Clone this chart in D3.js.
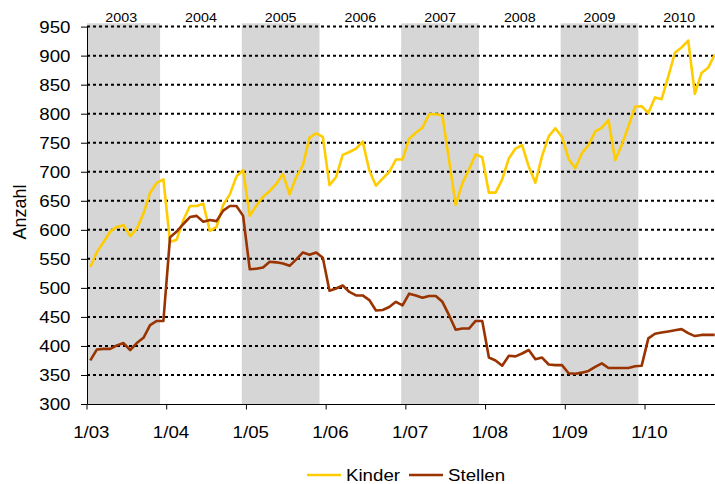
<!DOCTYPE html>
<html>
<head>
<meta charset="utf-8">
<script src="https://cdn.jsdelivr.net/npm/d3@7"></script>
<style>
  html, body { margin: 0; padding: 0; background: #fff; }
  svg { display: block; font-family: "Liberation Sans", Arial, sans-serif; }
</style>
</head>
<body>
<svg id="chart" width="715" height="484"></svg>
<script>
// monthly values, Jan 2003 .. Nov 2010
const years = [2003, 2004, 2005, 2006, 2007, 2008, 2009, 2010];
const shadedYears = [2003, 2005, 2007, 2009];
const yTicks = [300, 350, 400, 450, 500, 550, 600, 650, 700, 750, 800, 850, 900, 950];

const kinder = [
  536, 562, 579, 597, 605, 608, 589, 602, 628, 664, 681, 687,
  579, 583, 617, 641, 641, 645, 598, 605, 643, 661, 692, 703,
  624, 642, 657, 667, 679, 696, 661, 691, 711, 759, 766, 760,
  677, 691, 729, 734, 740, 752, 702, 676, 688, 700, 721, 721,
  757, 767, 776, 799, 799, 797, 720, 643, 680, 704, 730, 725,
  664, 664, 687, 723, 740, 746, 709, 681, 727, 761, 775, 760,
  722, 706, 732, 746, 769, 776, 789, 720, 746, 778, 812, 813,
  801, 828, 825, 864, 905, 914, 926, 834, 870, 879, 902
];

const stellen = [
  375, 394, 395, 395, 401, 405, 393, 405, 414, 436, 443, 443,
  587, 597, 610, 622, 624, 614, 617, 615, 633, 641, 641, 624,
  532, 533, 535, 545, 544, 542, 538, 549, 561, 557, 561, 552,
  495, 499, 504, 493, 487, 487, 479, 461, 462, 467, 476, 470,
  490, 487, 483, 486, 486, 476, 453, 428, 430, 430, 443, 443,
  380, 375, 366, 383, 382, 387, 393, 377, 380, 368, 367, 367,
  353, 352, 354, 357, 364, 370, 362, 362, 362, 362, 365, 366,
  413, 421, 423, 425, 427, 429, 422, 417, 419, 419, 419
];

const series = [
  { name: "Kinder", values: kinder, colour: "#ffcc00" },
  { name: "Stellen", values: stellen, colour: "#993300" }
];

const plotLeft = 87, plotBottom = 404, plotTop = 26.6;
const monthW = 6.643;
const months = d3.range(years.length * 12);
const stretch = "scale(1.1,1)";

const $svg = d3.select("#chart");

const x = d3.scaleBand()
  .domain(months)
  .range([plotLeft, plotLeft + months.length * monthW])
  .padding(0);
const bw = x.bandwidth();
const cx = (i) => x(i) + bw / 2;

const y = d3.scaleLinear().domain([300, 950]).range([plotBottom, plotTop]);

// year bands (alternately shaded)
const bandX0 = (yr) => x((yr - years[0]) * 12) - 0.7 * bw;
const bandX1 = (yr) => x((yr - years[0]) * 12) + 11.0 * bw;

$svg.append("g")
  .selectAll("rect")
  .data(shadedYears)
  .join("rect")
  .attr("x", (d) => Math.max(plotLeft, bandX0(d)))
  .attr("width", (d) => bandX1(d) - Math.max(plotLeft, bandX0(d)))
  .attr("y", plotTop - 3.3)
  .attr("height", plotBottom - plotTop + 3.3)
  .attr("fill", "#d6d6d6");

$svg.append("g")
  .selectAll("text")
  .data(years)
  .join("text")
  .attr("transform", (d) => `translate(${(bandX0(d) + bandX1(d)) / 2},21.7) ${stretch}`)
  .attr("text-anchor", "middle")
  .attr("font-size", 13)
  .attr("fill", "#000")
  .text((d) => d);

// dotted gridlines
$svg.append("g")
  .selectAll("line")
  .data(yTicks.slice(1))
  .join("line")
  .attr("x1", plotLeft)
  .attr("x2", 715)
  .attr("y1", (d) => y(d))
  .attr("y2", (d) => y(d))
  .attr("stroke", "#000")
  .attr("stroke-width", 2)
  .attr("stroke-dasharray", "3,3");

// y axis
const $yAxis = $svg.append("g")
  .attr("transform", `translate(${plotLeft},0)`)
  .call(d3.axisLeft(y).tickValues(yTicks).tickSize(6).tickSizeOuter(0));
$yAxis.select(".domain").attr("stroke", "#000");
$yAxis.selectAll(".tick line").attr("stroke", "#000");
$yAxis.selectAll(".tick text")
  .attr("x", 0)
  .attr("transform", `translate(-16.5,0) ${stretch}`)
  .attr("font-size", 17)
  .attr("font-family", null)
  .attr("fill", "#000");

// x axis: labels under January, ticks on year boundaries
const januaries = years.map((yr, i) => i * 12);
const $xAxis = $svg.append("g")
  .attr("transform", `translate(0,${plotBottom})`)
  .call(d3.axisBottom(x)
    .tickValues(januaries)
    .tickSize(0)
    .tickSizeOuter(0)
    .tickFormat((d) => `1/${String(years[d / 12]).slice(2)}`));
$xAxis.select(".domain").attr("stroke", "#000");
$xAxis.selectAll(".tick text")
  .attr("y", 0)
  .attr("dy", null)
  .attr("transform", `translate(1,34) ${stretch}`)
  .attr("font-size", 17)
  .attr("font-family", null)
  .attr("fill", "#000");

$svg.append("g")
  .selectAll("line")
  .data(januaries.concat([months.length]))
  .join("line")
  .attr("x1", (d) => (d < months.length ? x(d) : x(d - 1) + bw))
  .attr("x2", (d) => (d < months.length ? x(d) : x(d - 1) + bw))
  .attr("y1", plotBottom)
  .attr("y2", plotBottom + 5.5)
  .attr("stroke", "#000");

// lines
const line = d3.line()
  .x((d, i) => cx(i))
  .y((d) => y(d));

$svg.append("g")
  .selectAll("path")
  .data(series)
  .join("path")
  .attr("d", (d) => line(d.values))
  .attr("fill", "none")
  .attr("stroke", (d) => d.colour)
  .attr("stroke-width", 2.6)
  .attr("stroke-linejoin", "round");

// y label
$svg.append("text")
  .attr("transform", "translate(26,212) rotate(-90)")
  .attr("text-anchor", "middle")
  .attr("font-size", 18)
  .attr("fill", "#000")
  .text("Anzahl");

// legend
const legendX = [307, 409];
const $legend = $svg.append("g")
  .selectAll("g")
  .data(series)
  .join("g")
  .attr("transform", (d, i) => `translate(${legendX[i]},475)`);
$legend.append("line")
  .attr("x1", 0)
  .attr("x2", 34)
  .attr("stroke", (d) => d.colour)
  .attr("stroke-width", 2.6);
$legend.append("text")
  .attr("transform", `translate(39,6) ${stretch}`)
  .attr("font-size", 17)
  .attr("fill", "#000")
  .text((d) => d.name);
</script>
</body>
</html>
